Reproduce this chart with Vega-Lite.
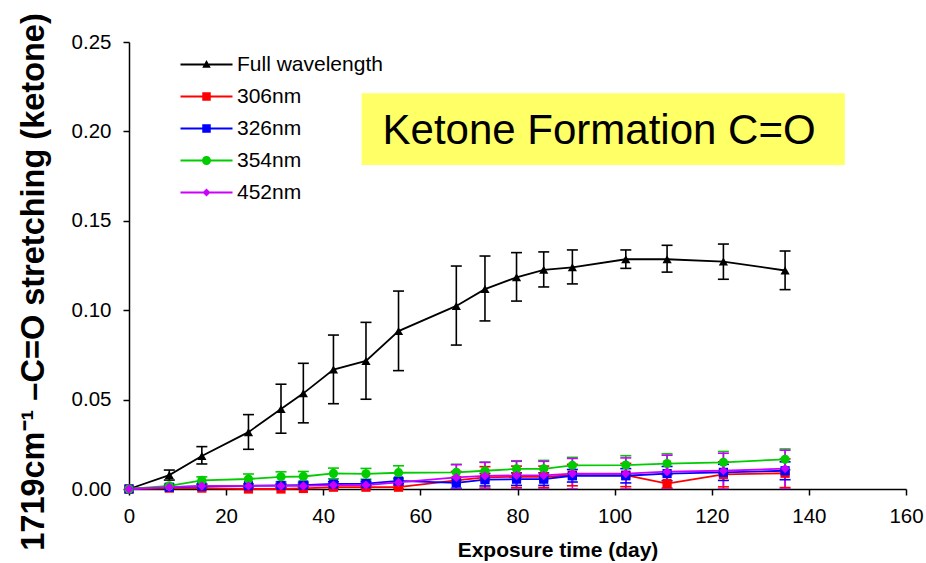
{
  "$schema": "https://vega.github.io/schema/vega-lite/v6.json",
  "width": 777,
  "height": 447,
  "autosize": {"type": "none"},
  "padding": {"left": 129, "top": 42, "right": 20, "bottom": 74},
  "background": "white",
  "config": {
    "font": "Liberation Sans",
    "view": {"stroke": null},
    "axis": {
      "grid": false,
      "domainColor": "black",
      "domainWidth": 1.5,
      "tickColor": "black",
      "tickWidth": 1.5,
      "tickSize": 6,
      "labelColor": "black",
      "labelFontSize": 20.5,
      "labelPadding": 11,
      "titleColor": "black",
      "labelFlush": false,
      "labelOverlap": false
    }
  },
  "datasets": {
    "series": [
      {"series": "Full wavelength", "day": 0, "value": 0, "lo": null, "hi": null},
      {"series": "Full wavelength", "day": 8.3, "value": 0.0078, "lo": 0.0050, "hi": 0.0106},
      {"series": "Full wavelength", "day": 15.0, "value": 0.0185, "lo": 0.0140, "hi": 0.0237},
      {"series": "Full wavelength", "day": 24.6, "value": 0.0318, "lo": 0.0222, "hi": 0.0416},
      {"series": "Full wavelength", "day": 31.3, "value": 0.0448, "lo": 0.0312, "hi": 0.0586},
      {"series": "Full wavelength", "day": 35.9, "value": 0.0535, "lo": 0.0370, "hi": 0.0703},
      {"series": "Full wavelength", "day": 42.1, "value": 0.0668, "lo": 0.0477, "hi": 0.0861},
      {"series": "Full wavelength", "day": 48.8, "value": 0.0716, "lo": 0.0502, "hi": 0.0932},
      {"series": "Full wavelength", "day": 55.5, "value": 0.0883, "lo": 0.0662, "hi": 0.1107},
      {"series": "Full wavelength", "day": 67.4, "value": 0.1024, "lo": 0.0805, "hi": 0.1247},
      {"series": "Full wavelength", "day": 73.3, "value": 0.1118, "lo": 0.0940, "hi": 0.1303},
      {"series": "Full wavelength", "day": 79.8, "value": 0.1184, "lo": 0.1051, "hi": 0.1322},
      {"series": "Full wavelength", "day": 85.4, "value": 0.1226, "lo": 0.1130, "hi": 0.1326},
      {"series": "Full wavelength", "day": 91.3, "value": 0.1240, "lo": 0.1147, "hi": 0.1337},
      {"series": "Full wavelength", "day": 102.3, "value": 0.1285, "lo": 0.1234, "hi": 0.1337},
      {"series": "Full wavelength", "day": 110.8, "value": 0.1285, "lo": 0.1213, "hi": 0.1363},
      {"series": "Full wavelength", "day": 122.4, "value": 0.1272, "lo": 0.1173, "hi": 0.1370},
      {"series": "Full wavelength", "day": 135.1, "value": 0.1222, "lo": 0.1115, "hi": 0.1331},

      {"series": "306nm", "day": 0, "value": 0, "lo": null, "hi": null},
      {"series": "306nm", "day": 8.3, "value": 0.0005, "lo": 0.0, "hi": 0.0010},
      {"series": "306nm", "day": 15.0, "value": 0.0005, "lo": 0.0, "hi": 0.0012},
      {"series": "306nm", "day": 24.6, "value": 0.0000, "lo": 0.0, "hi": 0.0010},
      {"series": "306nm", "day": 31.3, "value": 0.0000, "lo": 0.0, "hi": 0.0010},
      {"series": "306nm", "day": 35.9, "value": 0.0003, "lo": 0.0, "hi": 0.0013},
      {"series": "306nm", "day": 42.1, "value": 0.0010, "lo": 0.0, "hi": 0.0020},
      {"series": "306nm", "day": 48.8, "value": 0.0010, "lo": 0.0, "hi": 0.0020},
      {"series": "306nm", "day": 55.5, "value": 0.0010, "lo": 0.0, "hi": 0.0020},
      {"series": "306nm", "day": 67.4, "value": 0.0048, "lo": 0.0, "hi": 0.0098},
      {"series": "306nm", "day": 73.3, "value": 0.0065, "lo": 0.0005, "hi": 0.0125},
      {"series": "306nm", "day": 79.8, "value": 0.0068, "lo": 0.0008, "hi": 0.0128},
      {"series": "306nm", "day": 85.4, "value": 0.0068, "lo": 0.0008, "hi": 0.0128},
      {"series": "306nm", "day": 91.3, "value": 0.0078, "lo": 0.0018, "hi": 0.0138},
      {"series": "306nm", "day": 102.3, "value": 0.0078, "lo": 0.0013, "hi": 0.0143},
      {"series": "306nm", "day": 110.8, "value": 0.0030, "lo": 0.0005, "hi": 0.0080},
      {"series": "306nm", "day": 122.4, "value": 0.0082, "lo": 0.0012, "hi": 0.0152},
      {"series": "306nm", "day": 135.1, "value": 0.0088, "lo": 0.0008, "hi": 0.0168},

      {"series": "326nm", "day": 0, "value": 0, "lo": null, "hi": null},
      {"series": "326nm", "day": 8.3, "value": 0.0010, "lo": 0.0003, "hi": 0.0017},
      {"series": "326nm", "day": 15.0, "value": 0.0015, "lo": 0.0005, "hi": 0.0025},
      {"series": "326nm", "day": 24.6, "value": 0.0018, "lo": 0.0008, "hi": 0.0028},
      {"series": "326nm", "day": 31.3, "value": 0.0020, "lo": 0.0010, "hi": 0.0030},
      {"series": "326nm", "day": 35.9, "value": 0.0022, "lo": 0.0010, "hi": 0.0034},
      {"series": "326nm", "day": 42.1, "value": 0.0028, "lo": 0.0015, "hi": 0.0041},
      {"series": "326nm", "day": 48.8, "value": 0.0030, "lo": 0.0017, "hi": 0.0043},
      {"series": "326nm", "day": 55.5, "value": 0.0045, "lo": 0.0030, "hi": 0.0060},
      {"series": "326nm", "day": 67.4, "value": 0.0034, "lo": 0.0004, "hi": 0.0064},
      {"series": "326nm", "day": 73.3, "value": 0.0052, "lo": 0.0017, "hi": 0.0087},
      {"series": "326nm", "day": 79.8, "value": 0.0055, "lo": 0.0020, "hi": 0.0090},
      {"series": "326nm", "day": 85.4, "value": 0.0055, "lo": 0.0020, "hi": 0.0090},
      {"series": "326nm", "day": 91.3, "value": 0.0074, "lo": 0.0039, "hi": 0.0109},
      {"series": "326nm", "day": 102.3, "value": 0.0074, "lo": 0.0034, "hi": 0.0114},
      {"series": "326nm", "day": 110.8, "value": 0.0086, "lo": 0.0046, "hi": 0.0126},
      {"series": "326nm", "day": 122.4, "value": 0.0093, "lo": 0.0048, "hi": 0.0138},
      {"series": "326nm", "day": 135.1, "value": 0.0102, "lo": 0.0052, "hi": 0.0152},

      {"series": "354nm", "day": 0, "value": 0, "lo": null, "hi": null},
      {"series": "354nm", "day": 8.3, "value": 0.0017, "lo": 0.0007, "hi": 0.0027},
      {"series": "354nm", "day": 15.0, "value": 0.0048, "lo": 0.0028, "hi": 0.0068},
      {"series": "354nm", "day": 24.6, "value": 0.0056, "lo": 0.0028, "hi": 0.0084},
      {"series": "354nm", "day": 31.3, "value": 0.0068, "lo": 0.0040, "hi": 0.0096},
      {"series": "354nm", "day": 35.9, "value": 0.0070, "lo": 0.0042, "hi": 0.0098},
      {"series": "354nm", "day": 42.1, "value": 0.0087, "lo": 0.0057, "hi": 0.0117},
      {"series": "354nm", "day": 48.8, "value": 0.0085, "lo": 0.0055, "hi": 0.0115},
      {"series": "354nm", "day": 55.5, "value": 0.0091, "lo": 0.0055, "hi": 0.0130},
      {"series": "354nm", "day": 67.4, "value": 0.0093, "lo": 0.0048, "hi": 0.0138},
      {"series": "354nm", "day": 73.3, "value": 0.0102, "lo": 0.0054, "hi": 0.0150},
      {"series": "354nm", "day": 79.8, "value": 0.0112, "lo": 0.0066, "hi": 0.0158},
      {"series": "354nm", "day": 85.4, "value": 0.0113, "lo": 0.0068, "hi": 0.0160},
      {"series": "354nm", "day": 91.3, "value": 0.0132, "lo": 0.0087, "hi": 0.0177},
      {"series": "354nm", "day": 102.3, "value": 0.0134, "lo": 0.0082, "hi": 0.0186},
      {"series": "354nm", "day": 110.8, "value": 0.0142, "lo": 0.0087, "hi": 0.0197},
      {"series": "354nm", "day": 122.4, "value": 0.0149, "lo": 0.0089, "hi": 0.0210},
      {"series": "354nm", "day": 135.1, "value": 0.0166, "lo": 0.0108, "hi": 0.0224},

      {"series": "452nm", "day": 0, "value": 0, "lo": null, "hi": null},
      {"series": "452nm", "day": 8.3, "value": 0.0010, "lo": 0.0003, "hi": 0.0017},
      {"series": "452nm", "day": 15.0, "value": 0.0017, "lo": 0.0007, "hi": 0.0027},
      {"series": "452nm", "day": 24.6, "value": 0.0017, "lo": 0.0007, "hi": 0.0027},
      {"series": "452nm", "day": 31.3, "value": 0.0017, "lo": 0.0007, "hi": 0.0027},
      {"series": "452nm", "day": 35.9, "value": 0.0017, "lo": 0.0007, "hi": 0.0027},
      {"series": "452nm", "day": 42.1, "value": 0.0022, "lo": 0.0010, "hi": 0.0034},
      {"series": "452nm", "day": 48.8, "value": 0.0022, "lo": 0.0010, "hi": 0.0034},
      {"series": "452nm", "day": 55.5, "value": 0.0037, "lo": 0.0022, "hi": 0.0052},
      {"series": "452nm", "day": 67.4, "value": 0.0065, "lo": 0.0, "hi": 0.0136},
      {"series": "452nm", "day": 73.3, "value": 0.0073, "lo": 0.0, "hi": 0.0149},
      {"series": "452nm", "day": 79.8, "value": 0.0076, "lo": 0.0, "hi": 0.0155},
      {"series": "452nm", "day": 85.4, "value": 0.0076, "lo": 0.0, "hi": 0.0155},
      {"series": "452nm", "day": 91.3, "value": 0.0086, "lo": 0.0, "hi": 0.0171},
      {"series": "452nm", "day": 102.3, "value": 0.0086, "lo": 0.0, "hi": 0.0174},
      {"series": "452nm", "day": 110.8, "value": 0.0097, "lo": 0.0, "hi": 0.0189},
      {"series": "452nm", "day": 122.4, "value": 0.0102, "lo": 0.0, "hi": 0.0200},
      {"series": "452nm", "day": 135.1, "value": 0.0114, "lo": 0.0, "hi": 0.0217}
    ],
    "note": [
      {"label": "Ketone Formation C=O", "x1": 47.9, "x2": 147.4, "y1": 0.2213, "y2": 0.1812, "tx": 96.8, "ty": 0.1928}
    ],
    "legend": [
      {"series": "Full wavelength"},
      {"series": "306nm"},
      {"series": "326nm"},
      {"series": "354nm"},
      {"series": "452nm"}
    ]
  },
  "layer": [
    {
      "data": {"name": "note"},
      "mark": {"type": "rect", "color": "#FFFF66"},
      "encoding": {
        "x": {"field": "x1", "type": "quantitative", "scale": {"domain": [0, 160], "nice": false, "zero": false},
          "axis": {"values": [0, 20, 40, 60, 80, 100, 120, 140, 160], "title": "Exposure time (day)", "titleFontSize": 21, "titleFontWeight": "bold", "titleX": 428.5, "titleY": 67, "titleBaseline": "alphabetic", "titleAlign": "center"}},
        "x2": {"field": "x2"},
        "y": {"field": "y1", "type": "quantitative", "scale": {"domain": [0, 0.25], "nice": false, "zero": false},
          "axis": {"values": [0, 0.05, 0.1, 0.15, 0.2, 0.25], "format": ".2f", "title": "1719cm⁻¹ –C=O stretching (ketone)", "titleFontSize": 32.5, "titleFontWeight": "bold", "titleX": -85.5, "titleY": 239.5, "titleAngle": 270, "titleAlign": "center", "titleBaseline": "alphabetic", "labelPadding": 12}},
        "y2": {"field": "y2"}
      }
    },
    {
      "data": {"name": "note"},
      "mark": {"type": "text", "fontSize": 42, "color": "black", "align": "center", "baseline": "alphabetic"},
      "encoding": {
        "x": {"field": "tx", "type": "quantitative"},
        "y": {"field": "ty", "type": "quantitative"},
        "text": {"field": "label"}
      }
    },
    {
      "data": {"name": "series"},
      "mark": {"type": "rule", "strokeWidth": 1.6, "clip": true},
      "encoding": {
        "x": {"field": "day", "type": "quantitative"},
        "y": {"field": "lo", "type": "quantitative"},
        "y2": {"field": "hi"},
        "color": {"field": "series", "type": "nominal", "legend": null,
          "scale": {"domain": ["Full wavelength", "306nm", "326nm", "354nm", "452nm"], "range": ["#000000", "#FF0000", "#0000FF", "#00CC00", "#CC00FF"]}}
      }
    },
    {
      "data": {"name": "series"},
      "mark": {"type": "tick", "orient": "horizontal", "size": 11, "thickness": 1.6, "clip": true, "opacity": 1},
      "encoding": {
        "x": {"field": "day", "type": "quantitative"},
        "y": {"field": "hi", "type": "quantitative"},
        "color": {"field": "series", "type": "nominal", "legend": null,
          "scale": {"domain": ["Full wavelength", "306nm", "326nm", "354nm", "452nm"], "range": ["#000000", "#FF0000", "#0000FF", "#00CC00", "#CC00FF"]}}
      }
    },
    {
      "data": {"name": "series"},
      "mark": {"type": "tick", "orient": "horizontal", "size": 11, "thickness": 1.6, "clip": true, "opacity": 1},
      "encoding": {
        "x": {"field": "day", "type": "quantitative"},
        "y": {"field": "lo", "type": "quantitative"},
        "color": {"field": "series", "type": "nominal", "legend": null,
          "scale": {"domain": ["Full wavelength", "306nm", "326nm", "354nm", "452nm"], "range": ["#000000", "#FF0000", "#0000FF", "#00CC00", "#CC00FF"]}}
      }
    },
    {
      "data": {"name": "series"},
      "mark": {"type": "line", "strokeWidth": 1.8},
      "encoding": {
        "x": {"field": "day", "type": "quantitative"},
        "y": {"field": "value", "type": "quantitative"},
        "color": {"field": "series", "type": "nominal", "legend": null,
          "scale": {"domain": ["Full wavelength", "306nm", "326nm", "354nm", "452nm"], "range": ["#000000", "#FF0000", "#0000FF", "#00CC00", "#CC00FF"]}}
      }
    },
    {
      "data": {"name": "series"},
      "mark": {"type": "point", "filled": true, "opacity": 1, "size": 85},
      "encoding": {
        "x": {"field": "day", "type": "quantitative"},
        "y": {"field": "value", "type": "quantitative"},
        "color": {"field": "series", "type": "nominal", "legend": null,
          "scale": {"domain": ["Full wavelength", "306nm", "326nm", "354nm", "452nm"], "range": ["#000000", "#FF0000", "#0000FF", "#00CC00", "#CC00FF"]}},
        "shape": {"field": "series", "type": "nominal", "legend": null,
          "scale": {"domain": ["Full wavelength", "306nm", "326nm", "354nm", "452nm"], "range": ["triangle-up", "square", "square", "circle", "diamond"]}}
      }
    },
    {
      "data": {"name": "legend"},
      "mark": {"type": "point", "filled": true, "opacity": 0},
      "encoding": {
        "color": {"field": "series", "type": "nominal",
          "scale": {"domain": ["Full wavelength", "306nm", "326nm", "354nm", "452nm"], "range": ["#000000", "#FF0000", "#0000FF", "#00CC00", "#CC00FF"]},
          "legend": {"title": null, "orient": "none", "legendX": 67, "legendY": 12, "symbolSize": 100, "symbolOpacity": 1, "symbolStrokeWidth": 0, "labelFontSize": 21, "labelColor": "black", "labelOffset": 20, "labelLimit": 400, "rowPadding": 10, "padding": 0}},
        "shape": {"field": "series", "type": "nominal",
          "scale": {"domain": ["Full wavelength", "306nm", "326nm", "354nm", "452nm"], "range": [
            "M-5.2,-0.2H5.2V0.2H-5.2Z M0,-0.9L0.85,0.65L-0.85,0.65Z",
            "M-5.2,-0.2H5.2V0.2H-5.2Z M-0.85,-0.85H0.85V0.85H-0.85Z",
            "M-5.2,-0.2H5.2V0.2H-5.2Z M-0.85,-0.85H0.85V0.85H-0.85Z",
            "M-5.2,-0.2H5.2V0.2H-5.2Z M-0.9,0A0.9,0.9,0,1,1,0.9,0A0.9,0.9,0,1,1,-0.9,0Z",
            "M-5.2,-0.2H5.2V0.2H-5.2Z M0,-0.8L0.8,0L0,0.8L-0.8,0Z"
          ]},
          "legend": {"title": null, "orient": "none", "legendX": 67, "legendY": 12, "symbolSize": 100, "symbolOpacity": 1, "symbolStrokeWidth": 0, "labelFontSize": 21, "labelColor": "black", "labelOffset": 20, "labelLimit": 400, "rowPadding": 10, "padding": 0}}
      }
    }
  ],
  "resolve": {"scale": {"color": "independent", "shape": "independent"}}
}
